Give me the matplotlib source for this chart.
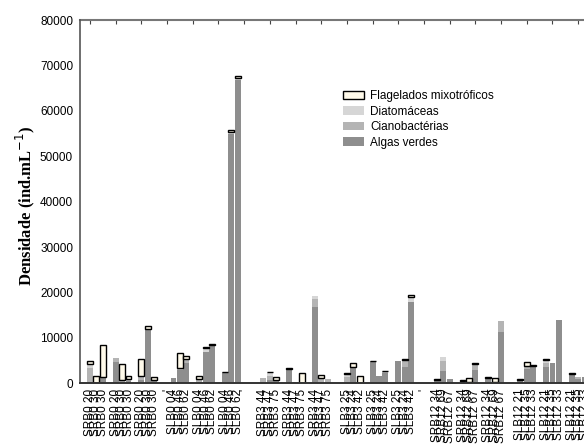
import numpy as np
import matplotlib.pyplot as plt

plt.rcParams['font.family'] = ['Liberation Sans', 'DejaVu Sans']

# one label per bar, 6 stations x 3 groups x 3 bars
labels = [
    'SRB0 20', 'SRB0 30', 'SRB0 30', 'SRB0 20', 'SRB0 30', 'SRB0 30', 'SRB0 20', 'SRB0 30', 'SRB0 30',
    'SLB0 04', 'SLB0 46', 'SLB0 62', 'SLB0 04', 'SLB0 46', 'SLB0 62', 'SLB0 04', 'SLB0 46', 'SLB0 62',
    'SRB3 44', 'SRB3 47', 'SRB3 75', 'SRB3 44', 'SRB3 47', 'SRB3 75', 'SRB3 44', 'SRB3 47', 'SRB3 75',
    'SLB3 25', 'SLB3 24', 'SLB3 42', 'SLB3 25', 'SLB3 24', 'SLB3 42', 'SLB3 25', 'SLB3 24', 'SLB3 42',
    'SRB12 34', 'SRB12 69', 'SRB12 67', 'SRB12 34', 'SRB12 69', 'SRB12 67', 'SRB12 34', 'SRB12 69', 'SRB12 67',
    'SLB12 21', 'SLB12 35', 'SLB12 33', 'SLB12 21', 'SLB12 35', 'SLB12 33', 'SLB12 21', 'SLB12 35', 'SLB12 33',
]

algas = [0, 0, 1300, 4600, 0, 400, 700, 12000, 700,
         1150, 2900, 4400, 300, 6800, 8400, 2400, 54800, 66800,
         0, 700, 500, 3200, 350, 0, 16900, 0, 0,
         0, 3500, 0, 4800, 1700, 2300, 4800, 3500, 18000,
         800, 2600, 900, 600, 300, 3000, 1200, 200, 11400,
         800, 3100, 3900, 3500, 4500, 14000, 2100, 1000, 1300]
ciano = [3300, 0, 0, 1000, 700, 500, 900, 0, 0,
         0, 500, 900, 600, 0, 0, 0, 0, 0,
         1200, 800, 300, 0, 0, 0, 1600, 1100, 900,
         1300, 0, 0, 0, 0, 400, 0, 1700, 0,
         0, 2400, 0, 0, 0, 1300, 0, 0, 2400,
         0, 700, 0, 1000, 0, 0, 0, 400, 0]
diat = [1000, 0, 0, 0, 0, 0, 0, 0, 0,
        0, 0, 0, 0, 900, 0, 0, 500, 500,
        0, 900, 0, 0, 0, 0, 800, 0, 0,
        800, 0, 0, 0, 0, 0, 0, 0, 900,
        0, 750, 0, 0, 0, 0, 0, 0, 0,
        0, 0, 0, 600, 0, 0, 0, 0, 0]
flag = [600, 1500, 7200, 0, 3500, 700, 3800, 700, 700,
        0, 3300, 700, 700, 200, 200, 100, 400, 400,
        0, 100, 500, 100, 0, 2200, 0, 700, 0,
        100, 900, 1600, 100, 0, 100, 0, 150, 600,
        150, 0, 0, 100, 800, 100, 100, 900, 0,
        100, 950, 100, 200, 0, 0, 100, 0, 0]

# layout: slot index of each station's first bar, groups of 3 bars + 1 blank slot
station_start = [0, 13, 27, 40, 54, 67]
x = np.array([s + g * 4 + b for s in station_start for g in range(3) for b in range(3)])

algas = np.array(algas, float)
ciano = np.array(ciano, float)
diat = np.array(diat, float)
flag = np.array(flag, float)

fig = plt.figure(figsize=(5.84, 4.45), dpi=100)
ax = fig.add_axes([0.137, 0.1387, 0.886, 0.8163])

w = 0.92
ax.bar(x, algas, w, color='#8e8e8e', linewidth=0, label='Algas verdes')
ax.bar(x, ciano, w, bottom=algas, color='#b4b4b4', linewidth=0, label='Cianobactérias')
ax.bar(x, diat, w, bottom=algas + ciano, color='#d6d6d6', linewidth=0, label='Diatomáceas')
ax.bar(x, flag, w, bottom=algas + ciano + diat, color='#fffaea', edgecolor='black',
       linewidth=np.where(flag > 0, 1.0, 0), label='Flagelados mixotróficos')

ax.set_xlim(-1.55, 79)
ax.set_ylim(0, 80000)
ax.set_yticks(np.arange(0, 80001, 10000))
ax.tick_params(axis='y', length=0, pad=5, labelsize=8.5)

tick_pos = list(x) + [12, 24, 52]
tick_lab = labels + ["'", "'", "'"]
ax.set_xticks(tick_pos)
ax.set_xticklabels(tick_lab, rotation=90, fontsize=8.5)
ax.tick_params(axis='x', length=0, pad=4)

# small inward ticks along the top edge
top = ax.secondary_xaxis('top')
top.set_xticks(np.arange(0, 77, 4))
top.set_xticklabels([])
top.tick_params(direction='in', length=3, color='#444444', width=0.8)
top.spines['top'].set_color('#777777')
top.spines['top'].set_linewidth(1.5)

ax.spines['right'].set_visible(False)
ax.spines['top'].set_visible(False)
ax.spines['left'].set_color('#555555')
ax.spines['left'].set_linewidth(1.2)
ax.spines['bottom'].set_color('#333333')
ax.spines['bottom'].set_linewidth(1.4)

fig.text(25 / 584, 0.537, 'Densidade (ind.mL$^{-1}$)', rotation=90, ha='center', va='center',
         fontsize=12, fontweight='bold', family='Liberation Serif')

h, l = ax.get_legend_handles_labels()
ax.legend(h[::-1], l[::-1], loc='upper left', bbox_to_anchor=(343 / 584, 1 - 90 / 445),
          bbox_transform=fig.transFigure, frameon=False, fontsize=8.5,
          handlelength=1.75, handleheight=0.7, labelspacing=0.3, handletextpad=0.55,
          borderaxespad=0, borderpad=0)

fig.savefig('out.png', dpi=100)
